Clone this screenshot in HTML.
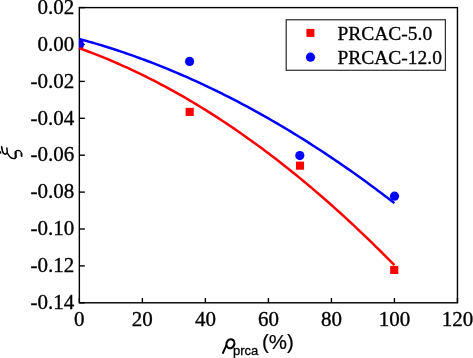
<!DOCTYPE html>
<html><head><meta charset="utf-8"><style>
html,body{margin:0;padding:0;background:#fff;}
body{width:473px;height:358px;overflow:hidden;}
svg{display:block;will-change:transform;}
</style></head><body>
<svg width="473" height="358" viewBox="0 0 473 358">
<defs><clipPath id="c"><rect x="79.0" y="7.6" width="378.45" height="295.2"/></clipPath></defs>
<rect x="79.35" y="7.6" width="378.1" height="295.2" fill="none" stroke="#000" stroke-width="1.4"/>
<g stroke="#000" stroke-width="1.4">
<line x1="79.35" y1="7.60" x2="84.85" y2="7.60"/>
<line x1="79.35" y1="44.50" x2="84.85" y2="44.50"/>
<line x1="79.35" y1="81.40" x2="84.85" y2="81.40"/>
<line x1="79.35" y1="118.30" x2="84.85" y2="118.30"/>
<line x1="79.35" y1="155.20" x2="84.85" y2="155.20"/>
<line x1="79.35" y1="192.10" x2="84.85" y2="192.10"/>
<line x1="79.35" y1="229.00" x2="84.85" y2="229.00"/>
<line x1="79.35" y1="265.90" x2="84.85" y2="265.90"/>
<line x1="79.35" y1="302.80" x2="84.85" y2="302.80"/>
<line x1="79.35" y1="302.8" x2="79.35" y2="298.00"/>
<line x1="142.37" y1="302.8" x2="142.37" y2="298.00"/>
<line x1="205.38" y1="302.8" x2="205.38" y2="298.00"/>
<line x1="268.40" y1="302.8" x2="268.40" y2="298.00"/>
<line x1="331.42" y1="302.8" x2="331.42" y2="298.00"/>
<line x1="394.43" y1="302.8" x2="394.43" y2="298.00"/>
<line x1="457.45" y1="302.8" x2="457.45" y2="298.00"/>
</g>
<g clip-path="url(#c)">
<rect x="75.30" y="40.35" width="8.1" height="8.1" fill="#ff0000"/>
<rect x="185.65" y="107.85" width="8.1" height="8.1" fill="#ff0000"/>
<rect x="295.95" y="161.60" width="8.1" height="8.1" fill="#ff0000"/>
<rect x="390.20" y="265.90" width="8.1" height="8.1" fill="#ff0000"/>
<circle cx="79.35" cy="44.40" r="4.6" fill="#0000ff"/>
<circle cx="189.60" cy="61.40" r="4.6" fill="#0000ff"/>
<circle cx="299.80" cy="155.60" r="4.6" fill="#0000ff"/>
<circle cx="394.50" cy="196.20" r="4.6" fill="#0000ff"/>
<path d="M79.35,48.25 L82.50,49.38 L85.65,50.53 L88.80,51.71 L91.95,52.91 L95.10,54.12 L98.25,55.36 L101.41,56.62 L104.56,57.90 L107.71,59.20 L110.86,60.52 L114.01,61.87 L117.16,63.23 L120.31,64.62 L123.46,66.02 L126.61,67.45 L129.76,68.90 L132.91,70.36 L136.06,71.85 L139.22,73.36 L142.37,74.89 L145.52,76.45 L148.67,78.02 L151.82,79.61 L154.97,81.23 L158.12,82.86 L161.27,84.52 L164.42,86.20 L167.57,87.90 L170.72,89.62 L173.88,91.36 L177.03,93.12 L180.18,94.90 L183.33,96.70 L186.48,98.53 L189.63,100.37 L192.78,102.24 L195.93,104.13 L199.08,106.03 L202.23,107.96 L205.38,109.91 L208.53,111.88 L211.69,113.88 L214.84,115.89 L217.99,117.92 L221.14,119.98 L224.29,122.05 L227.44,124.15 L230.59,126.26 L233.74,128.40 L236.89,130.56 L240.04,132.74 L243.19,134.94 L246.34,137.16 L249.50,139.41 L252.65,141.67 L255.80,143.96 L258.95,146.26 L262.10,148.59 L265.25,150.93 L268.40,153.30 L271.55,155.69 L274.70,158.10 L277.85,160.53 L281.00,162.99 L284.15,165.46 L287.31,167.95 L290.46,170.47 L293.61,173.00 L296.76,175.56 L299.91,178.14 L303.06,180.74 L306.21,183.35 L309.36,185.99 L312.51,188.66 L315.66,191.34 L318.81,194.04 L321.96,196.77 L325.12,199.51 L328.27,202.28 L331.42,205.06 L334.57,207.87 L337.72,210.70 L340.87,213.55 L344.02,216.42 L347.17,219.31 L350.32,222.22 L353.47,225.16 L356.62,228.11 L359.77,231.09 L362.92,234.08 L366.08,237.10 L369.23,240.14 L372.38,243.20 L375.53,246.28 L378.68,249.38 L381.83,252.50 L384.98,255.64 L388.13,258.80 L391.28,261.99 L394.43,265.19" fill="none" stroke="#ff0000" stroke-width="2.5"/>
<path d="M79.35,38.98 L82.50,39.84 L85.65,40.71 L88.80,41.60 L91.95,42.50 L95.10,43.42 L98.25,44.35 L101.41,45.31 L104.56,46.27 L107.71,47.25 L110.86,48.25 L114.01,49.27 L117.16,50.30 L120.31,51.34 L123.46,52.41 L126.61,53.48 L129.76,54.58 L132.91,55.69 L136.06,56.81 L139.22,57.95 L142.37,59.11 L145.52,60.28 L148.67,61.47 L151.82,62.68 L154.97,63.90 L158.12,65.13 L161.27,66.39 L164.42,67.65 L167.57,68.94 L170.72,70.24 L173.88,71.55 L177.03,72.89 L180.18,74.23 L183.33,75.60 L186.48,76.98 L189.63,78.37 L192.78,79.78 L195.93,81.21 L199.08,82.65 L202.23,84.11 L205.38,85.59 L208.53,87.08 L211.69,88.58 L214.84,90.11 L217.99,91.65 L221.14,93.20 L224.29,94.77 L227.44,96.36 L230.59,97.96 L233.74,99.57 L236.89,101.21 L240.04,102.86 L243.19,104.52 L246.34,106.20 L249.50,107.90 L252.65,109.61 L255.80,111.34 L258.95,113.09 L262.10,114.85 L265.25,116.62 L268.40,118.42 L271.55,120.22 L274.70,122.05 L277.85,123.89 L281.00,125.74 L284.15,127.62 L287.31,129.50 L290.46,131.41 L293.61,133.33 L296.76,135.26 L299.91,137.21 L303.06,139.18 L306.21,141.16 L309.36,143.16 L312.51,145.18 L315.66,147.21 L318.81,149.25 L321.96,151.32 L325.12,153.39 L328.27,155.49 L331.42,157.60 L334.57,159.72 L337.72,161.87 L340.87,164.02 L344.02,166.20 L347.17,168.39 L350.32,170.59 L353.47,172.81 L356.62,175.05 L359.77,177.30 L362.92,179.57 L366.08,181.85 L369.23,184.16 L372.38,186.47 L375.53,188.80 L378.68,191.15 L381.83,193.52 L384.98,195.90 L388.13,198.29 L391.28,200.70 L394.43,203.13" fill="none" stroke="#0000ff" stroke-width="2.5"/>
</g>
<g font-family="'Liberation Serif', serif" font-size="21" fill="#000" stroke="#000" stroke-width="0.35">
<text x="74.3" y="13.80" text-anchor="end">0.02</text>
<text x="74.3" y="50.70" text-anchor="end">0.00</text>
<text x="74.3" y="87.60" text-anchor="end">-0.02</text>
<text x="74.3" y="124.50" text-anchor="end">-0.04</text>
<text x="74.3" y="161.40" text-anchor="end">-0.06</text>
<text x="74.3" y="198.30" text-anchor="end">-0.08</text>
<text x="74.3" y="235.20" text-anchor="end">-0.10</text>
<text x="74.3" y="272.10" text-anchor="end">-0.12</text>
<text x="74.3" y="309.00" text-anchor="end">-0.14</text>
<text x="79.35" y="325.7" text-anchor="middle">0</text>
<text x="142.37" y="325.7" text-anchor="middle">20</text>
<text x="205.38" y="325.7" text-anchor="middle">40</text>
<text x="268.40" y="325.7" text-anchor="middle">60</text>
<text x="331.42" y="325.7" text-anchor="middle">80</text>
<text x="394.43" y="325.7" text-anchor="middle">100</text>
<text x="457.45" y="325.7" text-anchor="middle">120</text>
</g>
<rect x="286.2" y="19.75" width="159.2" height="50.55" fill="#fff" stroke="#333" stroke-width="1.25"/>
<rect x="306.4" y="28.9" width="8" height="8" fill="#ff0000"/>
<circle cx="310.5" cy="57.2" r="4.6" fill="#0000ff"/>
<g font-family="'Liberation Serif', serif" font-size="19.5" fill="#000" stroke="#000" stroke-width="0.3">
<text x="337.4" y="40">PRCAC-5.0</text>
<text x="337.4" y="64">PRCAC-12.0</text>
</g>
<g fill="none" stroke="#000" stroke-linecap="round">
<path d="M0.3,151.6 L0.8,153.2" stroke-width="1.3"/>
<path d="M1.6,146.8 C2.0,149.5 2.5,152 3.5,153.2 C4.6,154.3 6.2,154.1 7.3,153.2" stroke-width="1.6"/>
<path d="M6.9,148 L7.3,152.9" stroke-width="1.5"/>
<path d="M7.3,152.9 C8.8,156 11.5,158.7 14,158.7 C15.2,158.7 15.7,157.8 15.7,156.4" stroke-width="1.3"/>
<path d="M15.7,157.2 L15.6,152" stroke-width="2.2"/>
<path d="M15.6,152 C15.8,150.7 16.9,150.3 18,150.3 C19.8,150.4 21.3,151.8 21.5,154" stroke-width="1.2"/>
<path d="M21.5,153.6 L21.6,156" stroke-width="1.9"/>
</g>
<g font-family="'Liberation Sans', sans-serif" fill="#000">
<g fill="none" stroke="#000"><ellipse cx="230.4" cy="343.8" rx="3.9" ry="4.55" transform="rotate(22 230.4 343.8)" stroke-width="2.1"/>
<path d="M226.5,345.2 L222.9,353.0" stroke-width="1.9" stroke-linecap="round"/></g>
<text x="233" y="354.9" font-size="13" stroke="#000" stroke-width="0.3">prca</text>
<text x="262" y="349.1" font-size="20.5" stroke="#000" stroke-width="0.2">(%)</text>
</g>
</svg>
</body></html>
